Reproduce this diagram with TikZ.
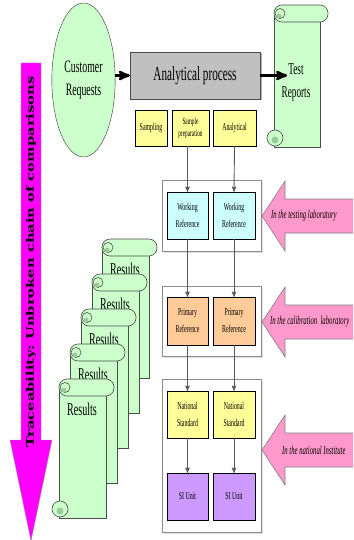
\documentclass[tikz,border=0pt]{standalone}
\usepackage{fontspec}
\setmainfont[FakeStretch=0.56]{Liberation Serif}
\newfontfamily\widebold[FakeStretch=1.4]{DejaVu Serif}
\usetikzlibrary{arrows}
\usetikzlibrary{shapes.geometric}
\usetikzlibrary{shadows}

\definecolor{mint}{HTML}{CCFFCC}
\definecolor{curlgreen}{HTML}{99CC99}
\definecolor{procgray}{HTML}{C0C0C0}
\definecolor{paleyellow}{HTML}{FFFF99}
\definecolor{palecyan}{HTML}{CCFFFF}
\definecolor{paleorange}{HTML}{FFCC99}
\definecolor{lavender}{HTML}{CC99FF}
\definecolor{rosepink}{HTML}{FF99CC}
\definecolor{vividpink}{HTML}{FF00FF}

\tikzset{
 refbox/.style={draw=black, inner sep=1pt, align=center, font=\fontsize{10.5}{17}\selectfont,
   drop shadow={shadow xshift=1.2pt, shadow yshift=-1.2pt, opacity=.45}},
 groupbox/.style={draw=black!45, fill=white, line width=.8pt,
   drop shadow={shadow xshift=1.5pt, shadow yshift=-1.5pt, opacity=.25}},
 scrollpart/.style={draw=black!70, fill=mint, line width=.6pt},
 pinkarrow/.style={draw=black!50, fill=rosepink, line width=.6pt},
 link/.style={draw=black!65, line width=.9pt, ->, >=stealth'},
 bigflow/.style={line width=2.6pt, ->, >=stealth'},
}

% #1 left, #2 top, #3 width, #4 height
\newcommand{\paperscroll}[4]{
 \filldraw[scrollpart] (#1+7,#2+8) rectangle (#1+#3-8,#2+#4);
 \filldraw[scrollpart] (#1+8,#2+#4-9) circle[radius=8pt];
 \fill[curlgreen] (#1+8,#2+#4-7) circle[radius=3.5pt];
 \filldraw[scrollpart, rounded corners=8pt] (#1+7,#2) rectangle (#1+#3,#2+17);
 \filldraw[scrollpart] (#1+13,#2+8.5) circle[radius=5pt];
 \fill[curlgreen] (#1+12,#2+11) circle[radius=2.5pt];
}

\begin{document}
\begin{tikzpicture}[x=1pt, y=-1pt]
\useasboundingbox (0,0) rectangle (353,540);
\clip (0,0) rectangle (353,540);

\filldraw[draw=black!40, fill=vividpink] (21,63) -- (41,63) -- (41,440) -- (52,440) -- (31,541) -- (10,440) -- (21,440) -- cycle;
\node[rotate=90, font=\widebold\bfseries\fontsize{10.5}{12}\selectfont] (trace) at (31,262) {Traceability:\ Unbroken chain of comparisons};

\node[ellipse, draw=black!80, fill=mint, minimum width=63pt, minimum height=154pt, align=center, font=\fontsize{17.5}{23}\selectfont] (cust) at (83.5,80) {Customer\\Requests};
\node[draw=black!70, fill=procgray, minimum width=130pt, minimum height=47pt, font=\fontsize{20}{24}\selectfont,
  drop shadow={shadow xshift=1.5pt, shadow yshift=-1.5pt, opacity=.6}] (proc) at (195,75.5) {Analytical process};

\paperscroll{267}{5}{61}{142}
\node[align=center, font=\fontsize{16.5}{23}\selectfont] (report) at (296,82) {Test\\Reports};

\draw[bigflow] (cust.east |- proc.west) -- (proc.west);
\draw[bigflow] (proc.east) -- (report.west |- proc.east) -- ++(9,0);

\node[refbox, fill=paleyellow, minimum width=32pt, minimum height=36pt] (samp) at (151,128) {Sampling};
\node[refbox, fill=paleyellow, minimum width=37pt, minimum height=36pt, font=\fontsize{9.5}{12}\selectfont] (prep) at (190.5,128) {Sample\\preparation};
\node[refbox, fill=paleyellow, minimum width=43pt, minimum height=36pt] (anal) at (234.5,128) {Analytical};

\node[groupbox, minimum width=99pt, minimum height=71pt] (labgroup) at (211.5,215.5) {};
\node[groupbox, minimum width=99pt, minimum height=70pt] (calgroup) at (211.5,321) {};
\node[groupbox, minimum width=99pt, minimum height=153pt] (natgroup) at (211.5,455.5) {};

\node[refbox, fill=palecyan, minimum width=41pt, minimum height=47pt] (work1) at (187.5,215.5) {Working\\Reference};
\node[refbox, fill=palecyan, minimum width=42pt, minimum height=47pt] (work2) at (234,215.5) {Working\\Reference};
\node[refbox, fill=paleorange, minimum width=41pt, minimum height=48pt] (prim1) at (187.5,321) {Primary\\Reference};
\node[refbox, fill=paleorange, minimum width=42pt, minimum height=48pt] (prim2) at (234,321) {Primary\\Reference};
\node[refbox, fill=paleyellow, minimum width=41pt, minimum height=47pt] (nat1) at (187.5,414.5) {National\\Standard};
\node[refbox, fill=paleyellow, minimum width=42pt, minimum height=47pt] (nat2) at (234,414.5) {National\\Standard};
\node[refbox, fill=lavender, minimum width=41pt, minimum height=47pt] (si1) at (187.5,496.5) {SI Unit};
\node[refbox, fill=lavender, minimum width=42pt, minimum height=47pt] (si2) at (234,496.5) {SI Unit};

\draw[link] (work1.north |- prep.south) -- (work1.north);
\draw[link] (anal.south) -- (work2.north);
\foreach \col in {1,2} {
 \draw[link] (work\col) -- (prim\col);
 \draw[link] (prim\col) -- (nat\col);
 \draw[link] (nat\col) -- (si\col);
}

\foreach \cy/\tx/\lbl [count=\i] in {216/271/In the testing laboratory, 322/270/In the calibration\ \ laboratory, 450/282/In the national Institute} {
 \filldraw[pinkarrow] (262,\cy) -- (285,\cy-35) -- (285,\cy-17) -- (360,\cy-17) -- (360,\cy+17) -- (285,\cy+17) -- (285,\cy+35) -- cycle;
 \node[anchor=west, inner sep=0pt, font=\itshape\fontsize{12}{14}\selectfont] (place\i) at (\tx,\cy) {\lbl};
}

\foreach \L/\T [count=\i] in {95/239, 85/274, 74/309, 63/344, 52/379} {
 \paperscroll{\L}{\T}{62}{139}
 \node[font=\fontsize{18}{20}\selectfont] (res\i) at (\L+30,\T+30) {Results};
}
\end{tikzpicture}
\end{document}
